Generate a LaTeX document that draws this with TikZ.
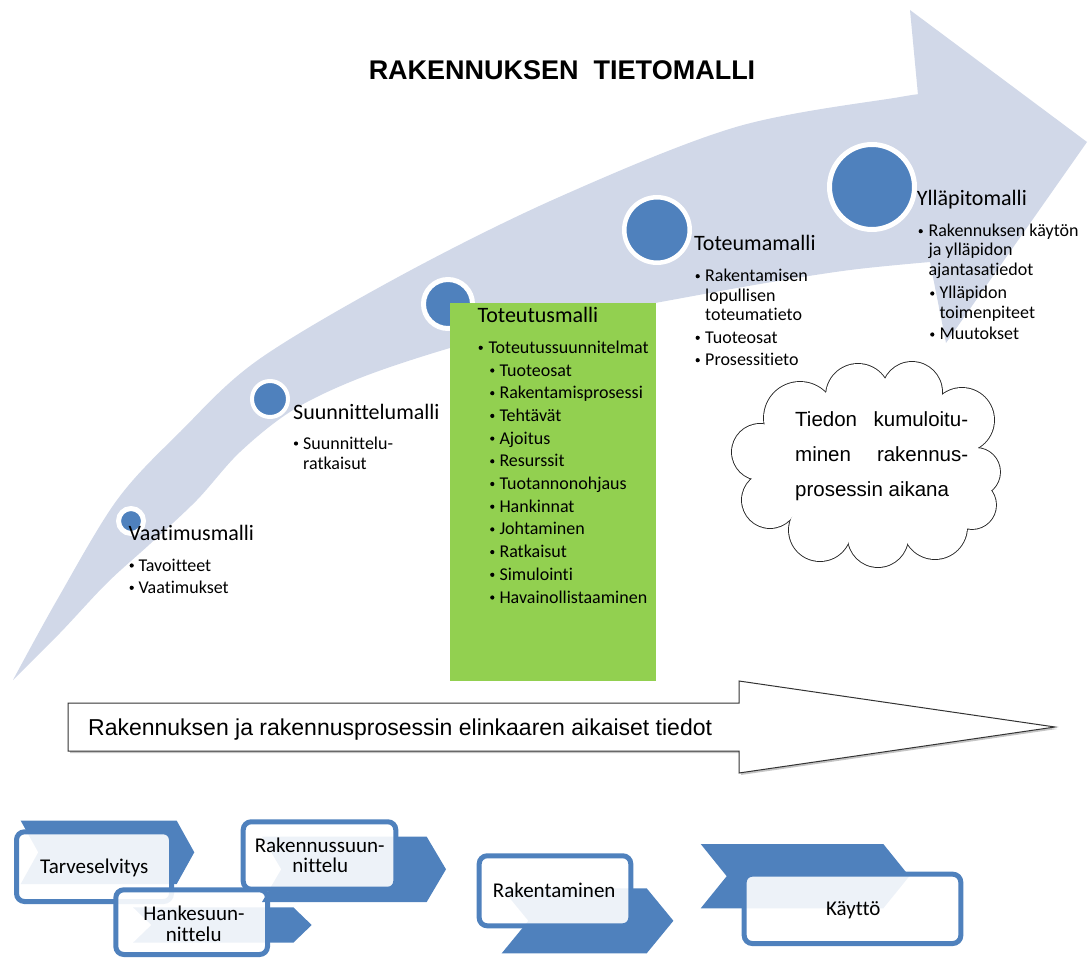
\documentclass[tikz,border=0pt]{standalone}
\usepackage{fontspec}
\setmainfont{Carlito}[Ligatures={NoCommon}]
\newfontfamily\arialf{Liberation Sans}
\usetikzlibrary{shadows}
\definecolor{bandc}{RGB}{209,216,232}
\definecolor{blu}{RGB}{79,129,189}
\definecolor{grn}{RGB}{146,208,80}
\begin{document}
\begin{tikzpicture}[x=1pt,y=-1pt,
  hd/.style={font=\fontsize{22}{26}\selectfont, anchor=base west, inner sep=0pt},
  it/.style={font=\fontsize{18}{22}\selectfont, anchor=base west, inner sep=0pt},
  bul/.style={circle, fill=black, inner sep=0pt, minimum size=4.2pt},
  ring/.style={circle, fill=blu, draw=white, inner sep=0pt},
  chev/.style={fill=blu},
  pbox/.style={draw=blu, line width=5pt, rounded corners=8pt, fill=white, fill opacity=0.9, draw opacity=1, inner sep=0pt},
  ptxt/.style={font=\fontsize{21}{25}\selectfont, anchor=base, inner sep=0pt},
  cl/.style={font=\arialf\fontsize{20.5}{24}\selectfont, anchor=base west, inner sep=0pt},
]
\useasboundingbox (0,0) rectangle (1088,960);

% big curved arrow
\fill[bandc] plot[smooth,tension=0.55] coordinates {(13,680) (57,600) (117,500) (180,432) (258,360) (400,276) (557,198) (736,127) (900,97) (918,95)}
  -- (910,10) -- (1087,142) -- (946,343) -- (930,262)
  -- plot[smooth,tension=0.55] coordinates {(930,262) (850,270) (760,284) (655,303) (550,322) (450,348) (360,378) (293,410) (240,452) (197,500) (150,544) (107,583) (60,633) (13,680)} -- cycle;

% title
\node[font=\arialf\bfseries\fontsize{27}{30}\selectfont, anchor=base, inner sep=0pt] (title) at (562,80) {RAKENNUKSEN\ \ TIETOMALLI};

% circles
\node[ring, minimum size=25pt, line width=5pt] (c1) at (131,521) {};
\node[ring, minimum size=36pt, line width=4pt] (c2) at (270,399) {};
\node[ring, minimum size=49pt, line width=5pt] (c3) at (448,304) {};
\node[ring, minimum size=65.5pt, line width=4.5pt] (c4) at (657,230) {};
\node[ring, minimum size=85pt, line width=5pt] (c5) at (872,187) {};

% green box
\node[fill=grn, minimum width=206pt, minimum height=378pt, inner sep=0pt] (gb) at (553,491.7) {};

% Vaatimusmalli
\node[hd] (vm) at (128.3,540.7) {Vaatimusmalli};
\node[bul] (vb1) at (131.7,565.5) {};
\node[it] (vt1) at (138.3,571) {Tavoitteet};
\node[bul] (vb2) at (131.7,587.8) {};
\node[it] (vt2) at (138.3,593.3) {Vaatimukset};

% Suunnittelumalli
\node[hd] (sm) at (293,419) {Suunnittelumalli};
\node[bul] (sb1) at (296,443.5) {};
\node[it] (st1) at (303,449) {Suunnittelu-};
\node[it] (st2) at (303,469) {ratkaisut};

% Toteutusmalli
\node[hd] (tm) at (477.3,322.3) {Toteutusmalli};
\node[bul] (tb0) at (480.7,347.8) {};
\node[it] (tt0) at (488.3,353.3) {Toteutussuunnitelmat};
\foreach \t [count=\i] in {Tuoteosat,Rakentamisprosessi,Tehtävät,Ajoitus,Resurssit,Tuotannonohjaus,Hankinnat,Johtaminen,Ratkaisut,Simulointi,Havainollistaaminen}{
  \node[bul] (tsb\i) at (492.3,{370.5+22.7*(\i-1)}) {};
  \node[it] (tst\i) at (499.3,{376+22.7*(\i-1)}) {\t};
}

% Toteumamalli
\node[hd] (om) at (694,251) {Toteumamalli};
\node[bul] (ob1) at (697.7,276.2) {};
\node[it] (ot1) at (705,281.7) {Rakentamisen};
\node[it] (ot2) at (705,301.7) {lopullisen};
\node[it] (ot3) at (705,321) {toteumatieto};
\node[bul] (ob4) at (697.7,337.8) {};
\node[it] (ot4) at (705,343.3) {Tuoteosat};
\node[bul] (ob5) at (697.7,360.2) {};
\node[it] (ot5) at (705,365.7) {Prosessitieto};

% Yllapitomalli
\node[hd] (ym) at (916.7,206) {Ylläpitomalli};
\node[bul] (yb1) at (920.7,231.2) {};
\node[it] (yt1) at (928.3,236.7) {Rakennuksen käytön};
\node[it] (yt2) at (928.3,256) {ja ylläpidon};
\node[it] (yt3) at (928.3,275.7) {ajantasatiedot};
\node[bul] (yb4) at (932.3,293.5) {};
\node[it] (yt4) at (939.3,299) {Ylläpidon};
\node[it] (yt5) at (939.3,318.3) {toimenpiteet};
\node[bul] (yb6) at (932.3,334.5) {};
\node[it] (yt6) at (939.3,340) {Muutokset};

% cloud: union of puffs, outlined
\coordinate (cloud) at (868,468);
\foreach \cx/\cy/\r in {800/418/36, 858/396/32, 912/392/30, 962/420/32, 976/472/24, 972/505/24, 935/527/32, 878/537/30, 820/530/31, 770/500/28, 760/452/28}
  \draw[draw=black!85, line width=1.8pt] (\cx,\cy) circle[radius=\r];
\foreach \cx/\cy/\r in {800/418/36, 858/396/32, 912/392/30, 962/420/32, 976/472/24, 972/505/24, 935/527/32, 878/537/30, 820/530/31, 770/500/28, 760/452/28}
  \fill[white] (\cx,\cy) circle[radius=\r];
\fill[white] (cloud) ellipse[x radius=100, y radius=65];
\node[cl] (cl1) at (795,426.7) {\makebox[173pt][l]{Tiedon\hfill kumuloitu-}};
\node[cl] (cl2) at (795,461.7) {\makebox[173pt][l]{minen\hfill rakennus-}};
\node[cl] (cl3) at (795,496.7) {prosessin aikana};

% bottom white arrow
\draw[draw=black!80, line width=1pt, fill=white, drop shadow={shadow xshift=2pt, shadow yshift=-2pt, fill=black!45}]
  (68,703) -- (739,703) -- (739,681) -- (1055,727) -- (739,773) -- (739,751) -- (68,751) -- cycle;
\node[font=\arialf\fontsize{23}{27}\selectfont, anchor=base west, inner sep=0pt] (arrtxt) at (88,735) {Rakennuksen ja rakennusprosessin elinkaaren aikaiset tiedot};

% process shapes
\fill[chev] (20.7,820.7) -- (176.7,820.7) -- (194.3,852.3) -- (176.7,884) -- (20.7,884) -- (38.3,852.3) -- cycle;
\node[pbox, minimum width=155pt, minimum height=69.7pt] (p1) at (94,866.65) {};
\fill[chev] (133,907.3) -- (293.3,907.3) -- (311.7,925) -- (293.3,942.7) -- (133,942.7) -- (151.4,925) -- cycle;
\node[pbox, minimum width=151.7pt, minimum height=64.7pt] (p2) at (191.65,922.15) {};
\fill[chev] (262,836.7) -- (426.7,836.7) -- (446,869.3) -- (426.7,902) -- (262,902) -- (281.3,869.3) -- cycle;
\node[pbox, minimum width=152.6pt, minimum height=67.4pt] (p3) at (319.5,855.5) {};
\fill[chev] (501.7,888.3) -- (646.7,888.3) -- (673.4,920.8) -- (646.7,953.3) -- (501.7,953.3) -- (528.4,920.8) -- cycle;
\node[pbox, minimum width=151.6pt, minimum height=70pt] (p4) at (555,890.8) {};
\fill[chev] (700.7,844) -- (883.3,844) -- (909.3,876.2) -- (883.3,908.3) -- (700.7,908.3) -- (726.7,876.2) -- cycle;
\node[pbox, minimum width=216.6pt, minimum height=69.3pt] (p5) at (852.5,908.85) {};

\node[ptxt] (pt1) at (94.3,873.3) {Tarveselvitys};
\node[ptxt] (pt2a) at (194,920.7) {Hankesuun-};
\node[ptxt] (pt2b) at (193.7,941.7) {nittelu};
\node[ptxt] (pt3a) at (319.7,852.3) {Rakennussuun-};
\node[ptxt] (pt3b) at (320.3,872.7) {nittelu};
\node[ptxt] (pt4) at (554.2,897.3) {Rakentaminen};
\node[ptxt] (pt5) at (853.3,915) {Käyttö};
\end{tikzpicture}
\end{document}
